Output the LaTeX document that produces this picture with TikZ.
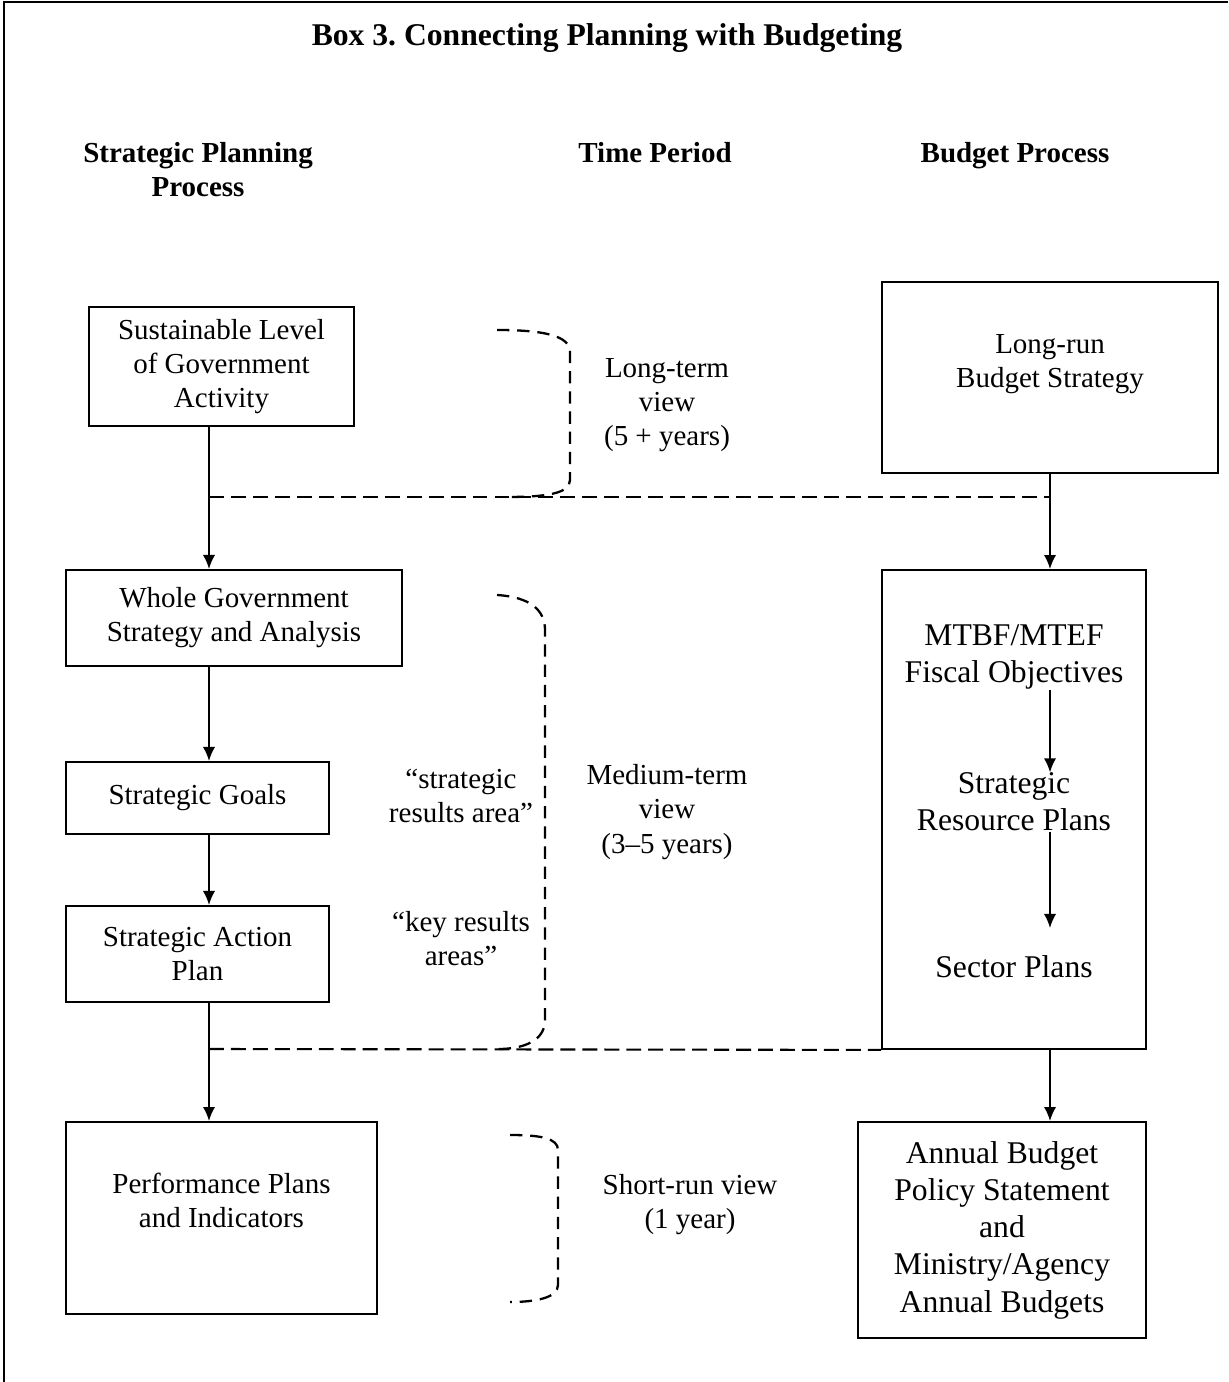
\documentclass[tikz,border=0pt]{standalone}
\usepackage{fontspec}
\setmainfont{Liberation Serif}
\usetikzlibrary{arrows.meta}
\frenchspacing

\begin{document}
\begin{tikzpicture}
		[x=0.02cm,y=-0.02cm,font=\fontsize{16.5}{19.4}\selectfont,
		box/.style={rectangle,draw,line width=1.1pt,align=center,inner sep=0pt},
		txt/.style={align=center,inner sep=0pt},
		big/.style={font=\fontsize{18}{21.2}\selectfont},
		head/.style={align=center,inner sep=0pt,font=\fontsize{16.5}{19.4}\selectfont\bfseries},
		arr/.style={-{Latex[length=8pt,width=7pt]},line width=1.1pt},
		split/.style={dash pattern=on 8.5pt off 4pt,line width=1.2pt},
		timebrace/.style={dash pattern=on 7pt off 4.5pt,line width=1.3pt}]
		\useasboundingbox (0,0) rectangle (1228,1382);
		\draw[line width=1.7pt] (4,1382) -- (4,2) -- (1228,2);
		% headings
		\node (Title) [head,font=\fontsize{18}{21}\selectfont\bfseries] at (607,38) {Box 3. Connecting Planning with Budgeting};
		\node (PlanHead) [head] at (198,170) {Strategic Planning\\Process};
		\node (TimeHead) [head] at (655,153) {Time Period};
		\node (BudgetHead) [head] at (1015,156) {Budget Process};
		% planning side
		\node (SustLevel) [box,minimum width=5.3cm,minimum height=2.38cm] at (221.5,366.5) {Sustainable Level\\of Government\\Activity};
		\node (WholeGov) [box,minimum width=6.72cm,minimum height=1.92cm] at (234,618) {Whole Government\\Strategy and Analysis};
		\node (StratGoals) [box,minimum width=5.26cm,minimum height=1.44cm] at (197.5,798) {Strategic Goals};
		\node (ActionPlan) [box,minimum width=5.26cm,minimum height=1.92cm] at (197.5,954) {Strategic Action\\Plan};
		\node (PerfPlans) [box,minimum width=6.22cm,minimum height=3.84cm] at (221.5,1218) {Performance Plans\\and Indicators\\[-4.6pt]\strut};
		% budget side
		\node (LongRun) [box,minimum width=6.72cm,minimum height=3.82cm] at (1050,377.5) {Long-run\\Budget Strategy\\[-6.8pt]\strut};
		\node (MidPlans) [box,minimum width=5.28cm,minimum height=9.58cm] at (1014,809.5) {};
		\node (Fiscal) [txt,big] at (1014,657) {MTBF/MTEF\\Fiscal Objectives};
		\node (Resource) [txt,big] at (1014,802) {Strategic\\Resource Plans};
		\node (Sector) [txt,big] at (1014,967) {Sector Plans};
		\node (Annual) [box,big,minimum width=5.76cm,minimum height=4.32cm] at (1002,1230) {Annual Budget\\Policy Statement\\and\\Ministry/Agency\\Annual Budgets};
		% time periods
		\node (LongView) [txt] at (667,405) {Long-term\\view\\(5 + years)};
		\node (MidView) [txt] at (667,812) {Medium-term\\view\\(3–5 years)};
		\node (ShortView) [txt] at (690,1205) {Short-run view\\(1 year)};
		\node (ResultsArea) [txt] at (461,796) {“strategic\\results area”};
		\node (KeyAreas) [txt] at (461,939) {“key results\\areas”};
		\coordinate (LongCut) at (209,497);
		\coordinate (ShortCut) at (209,1049);
		\draw[arr] (SustLevel.south -| LongCut) -- (WholeGov.north -| LongCut);
		\draw[arr] (WholeGov.south -| LongCut) -- (StratGoals.north -| LongCut);
		\draw[arr] (StratGoals.south -| LongCut) -- (ActionPlan.north -| LongCut);
		\draw[arr] (ActionPlan.south -| LongCut) -- (PerfPlans.north -| LongCut);
		\draw[arr] (LongRun.south) -- (LongRun.south |- MidPlans.north);
		\draw[arr] (MidPlans.south -| LongRun.south) -- (Annual.north -| LongRun.south);
		\draw[arr] (Fiscal.south -| LongRun.south) -- (Resource.north -| LongRun.south);
		\draw[arr,shorten >=0.55cm] (Resource.south -| LongRun.south) -- (Sector.north -| LongRun.south);
		\draw[split] (LongCut) -- (LongCut -| LongRun.south);
		\draw[split] (ShortCut) -- (MidPlans.south west);
		\draw[timebrace] (497,330) .. controls (545,330) and (570,336) .. (570,352) -- (570,480) .. controls (570,494) and (545,497) .. (505,497);
		\draw[timebrace] (497,595) .. controls (530,597) and (545,610) .. (545,630) -- (545,1020) .. controls (545,1040) and (525,1049) .. (498,1049);
		\draw[timebrace] (510,1135) .. controls (540,1135) and (558,1138) .. (558,1150) -- (558,1285) .. controls (558,1298) and (535,1302) .. (510,1302);
	\end{tikzpicture}
\end{document}
